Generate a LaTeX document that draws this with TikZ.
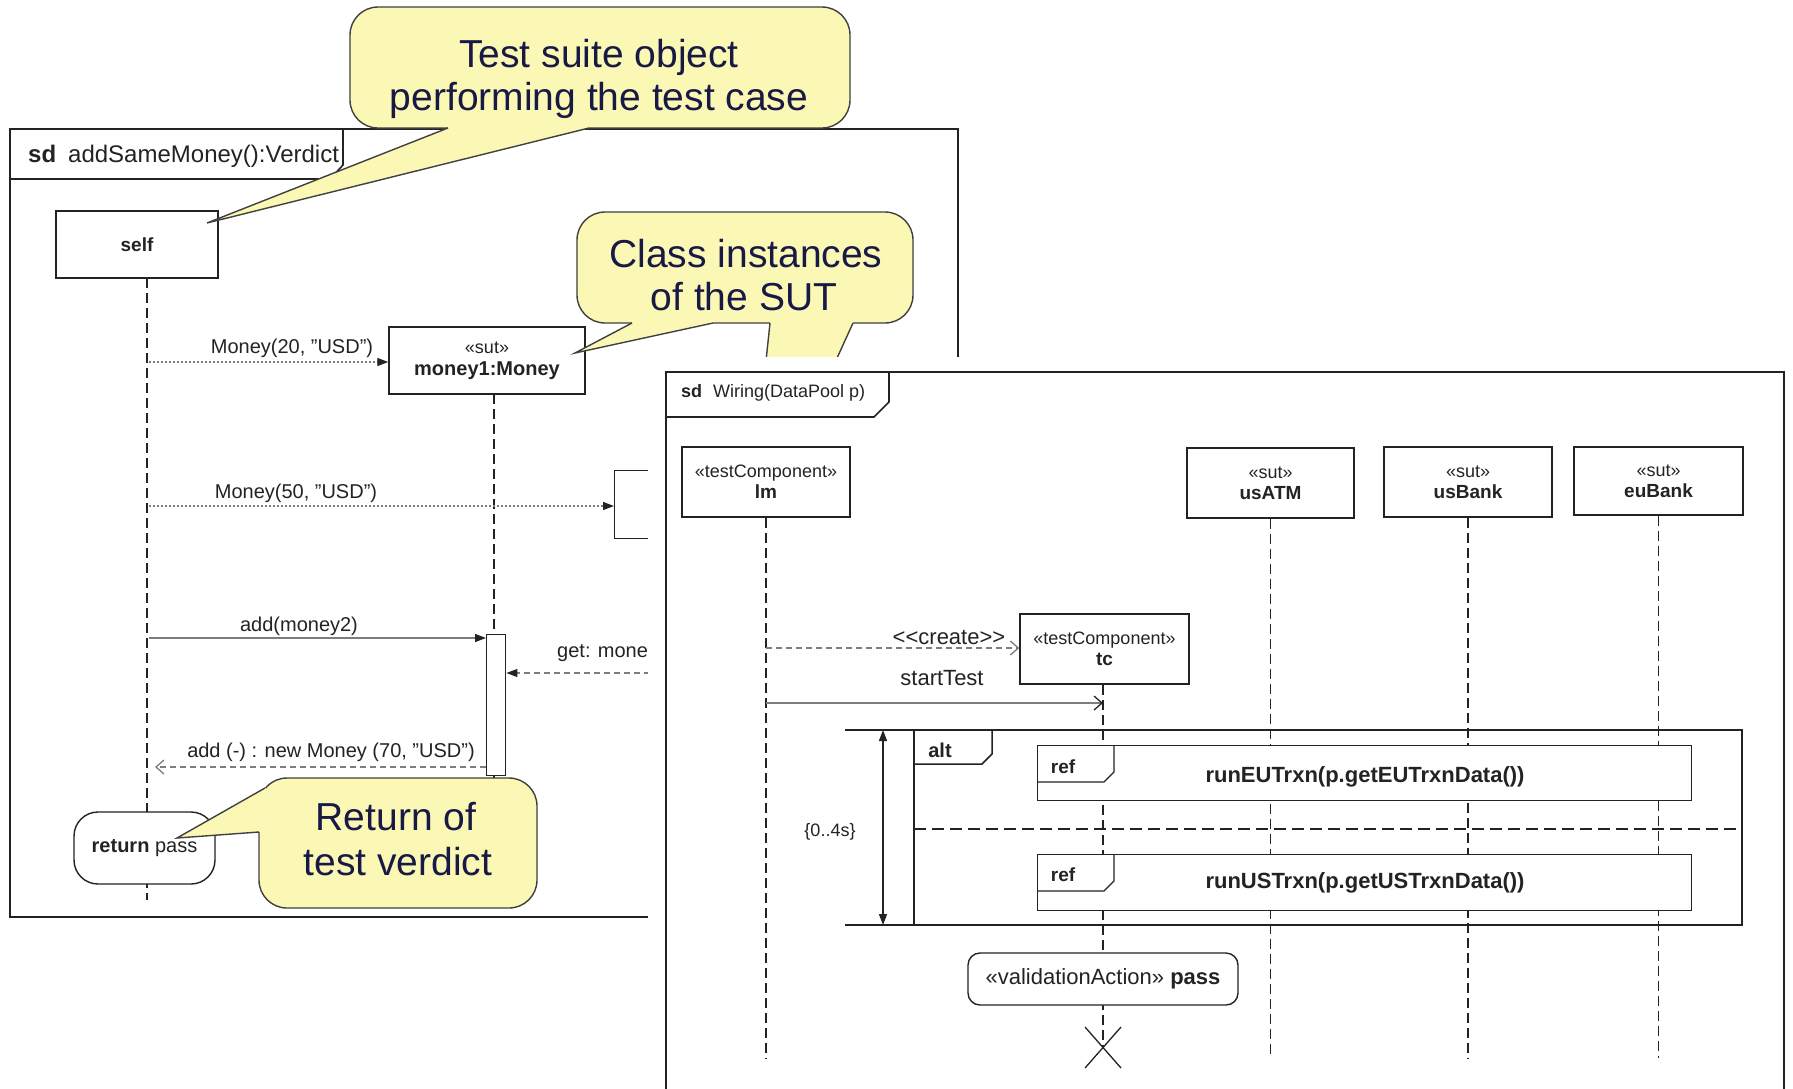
\documentclass[tikz,border=0pt]{standalone}
\usepackage{fontspec}
\setmainfont{Liberation Sans}
\usetikzlibrary{arrows.meta}
\definecolor{callfill}{RGB}{250,248,180}
\definecolor{calltext}{RGB}{25,25,70}
\definecolor{msg}{RGB}{125,125,125}
\definecolor{ink}{RGB}{35,35,35}
\begin{document}
\begin{tikzpicture}[x=1pt,y=-1pt,
  frame/.style={draw=ink, line width=1.6pt},
  box/.style={draw=ink, line width=1.4pt, fill=white, align=center, inner sep=0pt, text=ink},
  life/.style={draw=ink, line width=1.3pt, dash pattern=on 10pt off 5pt},
  txt/.style={text=ink, inner sep=0pt},
  dotmsg/.style={draw=msg, line width=1.3pt, dash pattern=on 2pt off 2pt, -{Triangle[length=11pt,width=8pt,color=ink]}},
  solmsg/.style={draw=msg, line width=1.3pt, -{Triangle[length=11pt,width=8pt,color=ink]}},
  dashmsg/.style={draw=msg, line width=1.3pt, dash pattern=on 6pt off 4pt, -{Triangle[length=11pt,width=8pt,color=ink]}},
  retmsg/.style={draw=msg, line width=1.3pt, dash pattern=on 6pt off 4pt, -{Straight Barb[length=8pt,width=14pt,color=msg]}},
  openmsg/.style={draw=msg, line width=1.3pt, -{Straight Barb[length=8pt,width=14pt,color=ink]}},
  opendash/.style={draw=msg, line width=1.3pt, dash pattern=on 6pt off 4pt, -{Straight Barb[length=8pt,width=14pt,color=msg]}},
  callout/.style={draw=black!75, line width=1.4pt, fill=callfill, rounded corners=28pt},
  callline/.style={draw=black!75, line width=1.4pt},
  ctext/.style={text=calltext, inner sep=0pt, font=\fontsize{39}{45}\selectfont, anchor=base},
  f18/.style={font=\fontsize{18}{21}\selectfont},
  f20/.style={font=\fontsize{20}{24}\selectfont},
  f22/.style={font=\fontsize{22}{26}\selectfont},
  frag/.style={draw=ink, line width=1.5pt}
]
\useasboundingbox (0,0) rectangle (1793,1088);
\clip (0,0) rectangle (1793,1088);
\fill[white] (0,0) rectangle (1793,1088);

% ================= left diagram =================
\draw[frame] (10,129) rectangle (958,917);
\draw[frame] (10,179) -- (330,179) -- (343,165) -- (343,129);
\node[txt, anchor=base west, font=\fontsize{24}{28}\selectfont] (sdL) at (28,162) {\textbf{sd}\hspace{12pt}addSameMoney():Verdict};

\node[box, minimum width=162pt, minimum height=67pt, font=\fontsize{19}{22}\selectfont\bfseries] (self) at (137,244.5) {self};
\node[box, minimum width=196pt, minimum height=67pt, font=\fontsize{18}{22}\selectfont] (m1) at (487,360.5) {«sut»\\{\fontsize{20}{22}\selectfont\bfseries money1:Money}};
\node[box, minimum width=90pt, minimum height=68pt, anchor=north west] (m2) at (614,470) {};

\coordinate (sTop) at (147,278);
\coordinate (sBot) at (147,900);
\coordinate (mTop) at (494,394);
\coordinate (mBot) at (494,800);
\draw[life] (sTop) -- (sBot);
\draw[life] (mTop) -- (mBot);

\node[box, minimum width=19pt, minimum height=141pt, anchor=north west] (act) at (486,634) {};

\coordinate (a20) at (149,362);
\draw[dotmsg] (a20) -- (m1.west |- a20);
\node[txt, f20] (l20) at (292,348) {Money(20, "USD")};

\coordinate (a50) at (149,506);
\draw[dotmsg] (a50) -- (m2.west |- a50);
\node[txt, f20] (l50) at (296,493) {Money(50, "USD")};

\coordinate (aadd) at (149,638);
\draw[solmsg] (aadd) -- (act.west |- aadd);
\node[txt, f20] (ladd) at (299,626) {add(money2)};

\coordinate (aget) at (700,673);
\draw[dashmsg] (aget) -- (act.east |- aget);
\node[txt, f20, anchor=west] (lget) at (557,653) {get: money2};

\coordinate (aret) at (155,767);
\draw[retmsg] (act.west |- aret) -- (aret);
\node[txt, f20] (lret) at (331,752) {add (-) : new Money (70, "USD")};

\node[box, rounded corners=24pt, minimum width=141pt, minimum height=72pt, f20] (rp) at (144.5,848) {\textbf{return} pass};

% ---- callout: test suite
\path[callout] (350,7) rectangle (850,128);
\fill[callfill] (448,118) -- (448,128) -- (207,223) -- (589,128) -- (589,118) -- cycle;
\draw[callline] (448,128) -- (207,223) -- (589,128);
\node[ctext] (c1a) at (599,67) {Test suite object};
\node[ctext] (c1b) at (599,110) {performing the test case};

% ---- callout: class instances
\path[callout] (577,212) rectangle (913,323);
\fill[callfill] (632,313) -- (632,323) -- (575,353) -- (713,323) -- (713,313) -- cycle;
\draw[callline] (632,323) -- (575,353) -- (713,323);
\fill[callfill] (770,313) -- (770,323) -- (745,560) -- (853,323) -- (853,313) -- cycle;
\draw[callline] (770,323) -- (745,560) -- (853,323);
\node[ctext] (c2a) at (746,267) {Class instances};
\node[ctext] (c2b) at (744,310) {of the SUT};

% ---- callout: return of test verdict
\path[callout] (259,778) rectangle (537,908);
\fill[callfill] (177,838) -- (265,788) -- (282,796) -- (282,830) -- (259,832) -- cycle;
\draw[callline] (265,788) -- (177,838) -- (259,832);
\node[ctext] (c3a) at (396,830) {Return of};
\node[ctext] (c3b) at (398,875) {test verdict};

% ================= right diagram =================
% white margin of the pasted picture
\fill[white] (648,357) rectangle (1793,1100);
\filldraw[frame, fill=white] (666,372) rectangle (1784,1110);
\draw[frame] (666,417) -- (874,417) -- (889,402) -- (889,372);
\node[txt, anchor=base west, font=\fontsize{18}{21}\selectfont] (sdR) at (681,397) {\textbf{sd}\hspace{11pt}Wiring(DataPool p)};

\node[box, minimum width=168pt, minimum height=70pt, f18] (lm) at (766,482) {«testComponent»\\{\fontsize{19}{21}\selectfont\bfseries lm}};
\node[box, minimum width=167pt, minimum height=70pt, f18] (atm) at (1270.5,483) {«sut»\\{\fontsize{19}{21}\selectfont\bfseries usATM}};
\node[box, minimum width=168pt, minimum height=70pt, f18] (usb) at (1468,482) {«sut»\\{\fontsize{19}{21}\selectfont\bfseries usBank}};
\node[box, minimum width=169pt, minimum height=68pt, f18] (eub) at (1658.5,481) {«sut»\\{\fontsize{19}{21}\selectfont\bfseries euBank}};
\node[box, minimum width=169pt, minimum height=70pt, f18] (tc) at (1104.5,649) {«testComponent»\\{\fontsize{19}{21}\selectfont\bfseries tc}};

\coordinate (lmEnd) at (766,1058);
\coordinate (atmEnd) at (1270.5,1058);
\coordinate (usbEnd) at (1468,1058);
\coordinate (eubEnd) at (1658.5,1058);
\coordinate (tcEnd) at (1103,1047);
\draw[life] (lm.south) -- (lmEnd);
\draw[life] (atm.south) -- (atmEnd);
\draw[life] (usb.south) -- (usbEnd);
\draw[life] (eub.south) -- (eubEnd);
\draw[life] (tc.south -| tcEnd) -- (tcEnd);

% combined fragment
\draw[frag] (845,730) -- (1742,730) -- (1742,925) -- (845,925);
\draw[frag] (914,730) -- (914,925);
\draw[frag] (914,764) -- (982,764) -- (992,754) -- (992,730);
\node[txt, font=\fontsize{20}{24}\selectfont\bfseries] (alt) at (940,750) {alt};
\draw[draw=ink, line width=1.4pt, dash pattern=on 12pt off 6pt] (914,829) -- (1742,829);
\coordinate (durT) at (883,730);
\coordinate (durB) at (883,925);
\draw[draw=ink, line width=1.4pt, {Triangle[length=11pt,width=8pt]}-{Triangle[length=11pt,width=8pt]}] (durT) -- (durB);
\node[txt, f18] (dur) at (830,832) {\{0..4s\}};

\node[box, minimum width=654pt, minimum height=55pt, anchor=north west] (ref1) at (1037,745) {};
\draw[draw=ink, line width=1.3pt] (1037,782) -- (1104,782) -- (1114,772) -- (1114,745);
\node[txt, font=\fontsize{19}{22}\selectfont\bfseries] (r1l) at (1063,767) {ref};
\node[txt, font=\fontsize{22}{26}\selectfont\bfseries] (r1t) at (1365,777) {runEUTrxn(p.getEUTrxnData())};

\node[box, minimum width=654pt, minimum height=56pt, anchor=north west] (ref2) at (1037,854) {};
\draw[draw=ink, line width=1.3pt] (1037,891) -- (1104,891) -- (1114,881) -- (1114,854);
\node[txt, font=\fontsize{19}{22}\selectfont\bfseries] (r2l) at (1063,875) {ref};
\node[txt, font=\fontsize{22}{26}\selectfont\bfseries] (r2t) at (1365,883) {runUSTrxn(p.getUSTrxnData())};

\node[box, rounded corners=12pt, minimum width=270pt, minimum height=52pt, f22] (val) at (1103,979) {«validationAction» \textbf{pass}};
\draw[draw=ink, line width=1.3pt] (1085,1027) -- (1121,1068);
\draw[draw=ink, line width=1.3pt] (1121,1027) -- (1085,1068);

\coordinate (cr) at (766,648);
\draw[opendash] (cr) -- (tc.west |- cr);
\node[txt, f22] (lcr) at (949,637) {<\kern0pt<create>\kern0pt>};
\coordinate (st) at (766,703);
\coordinate (stE) at (1103,703);
\draw[openmsg] (st) -- (stE);
\node[txt, f22] (lst) at (942,678) {startTest};
\end{tikzpicture}
\end{document}
